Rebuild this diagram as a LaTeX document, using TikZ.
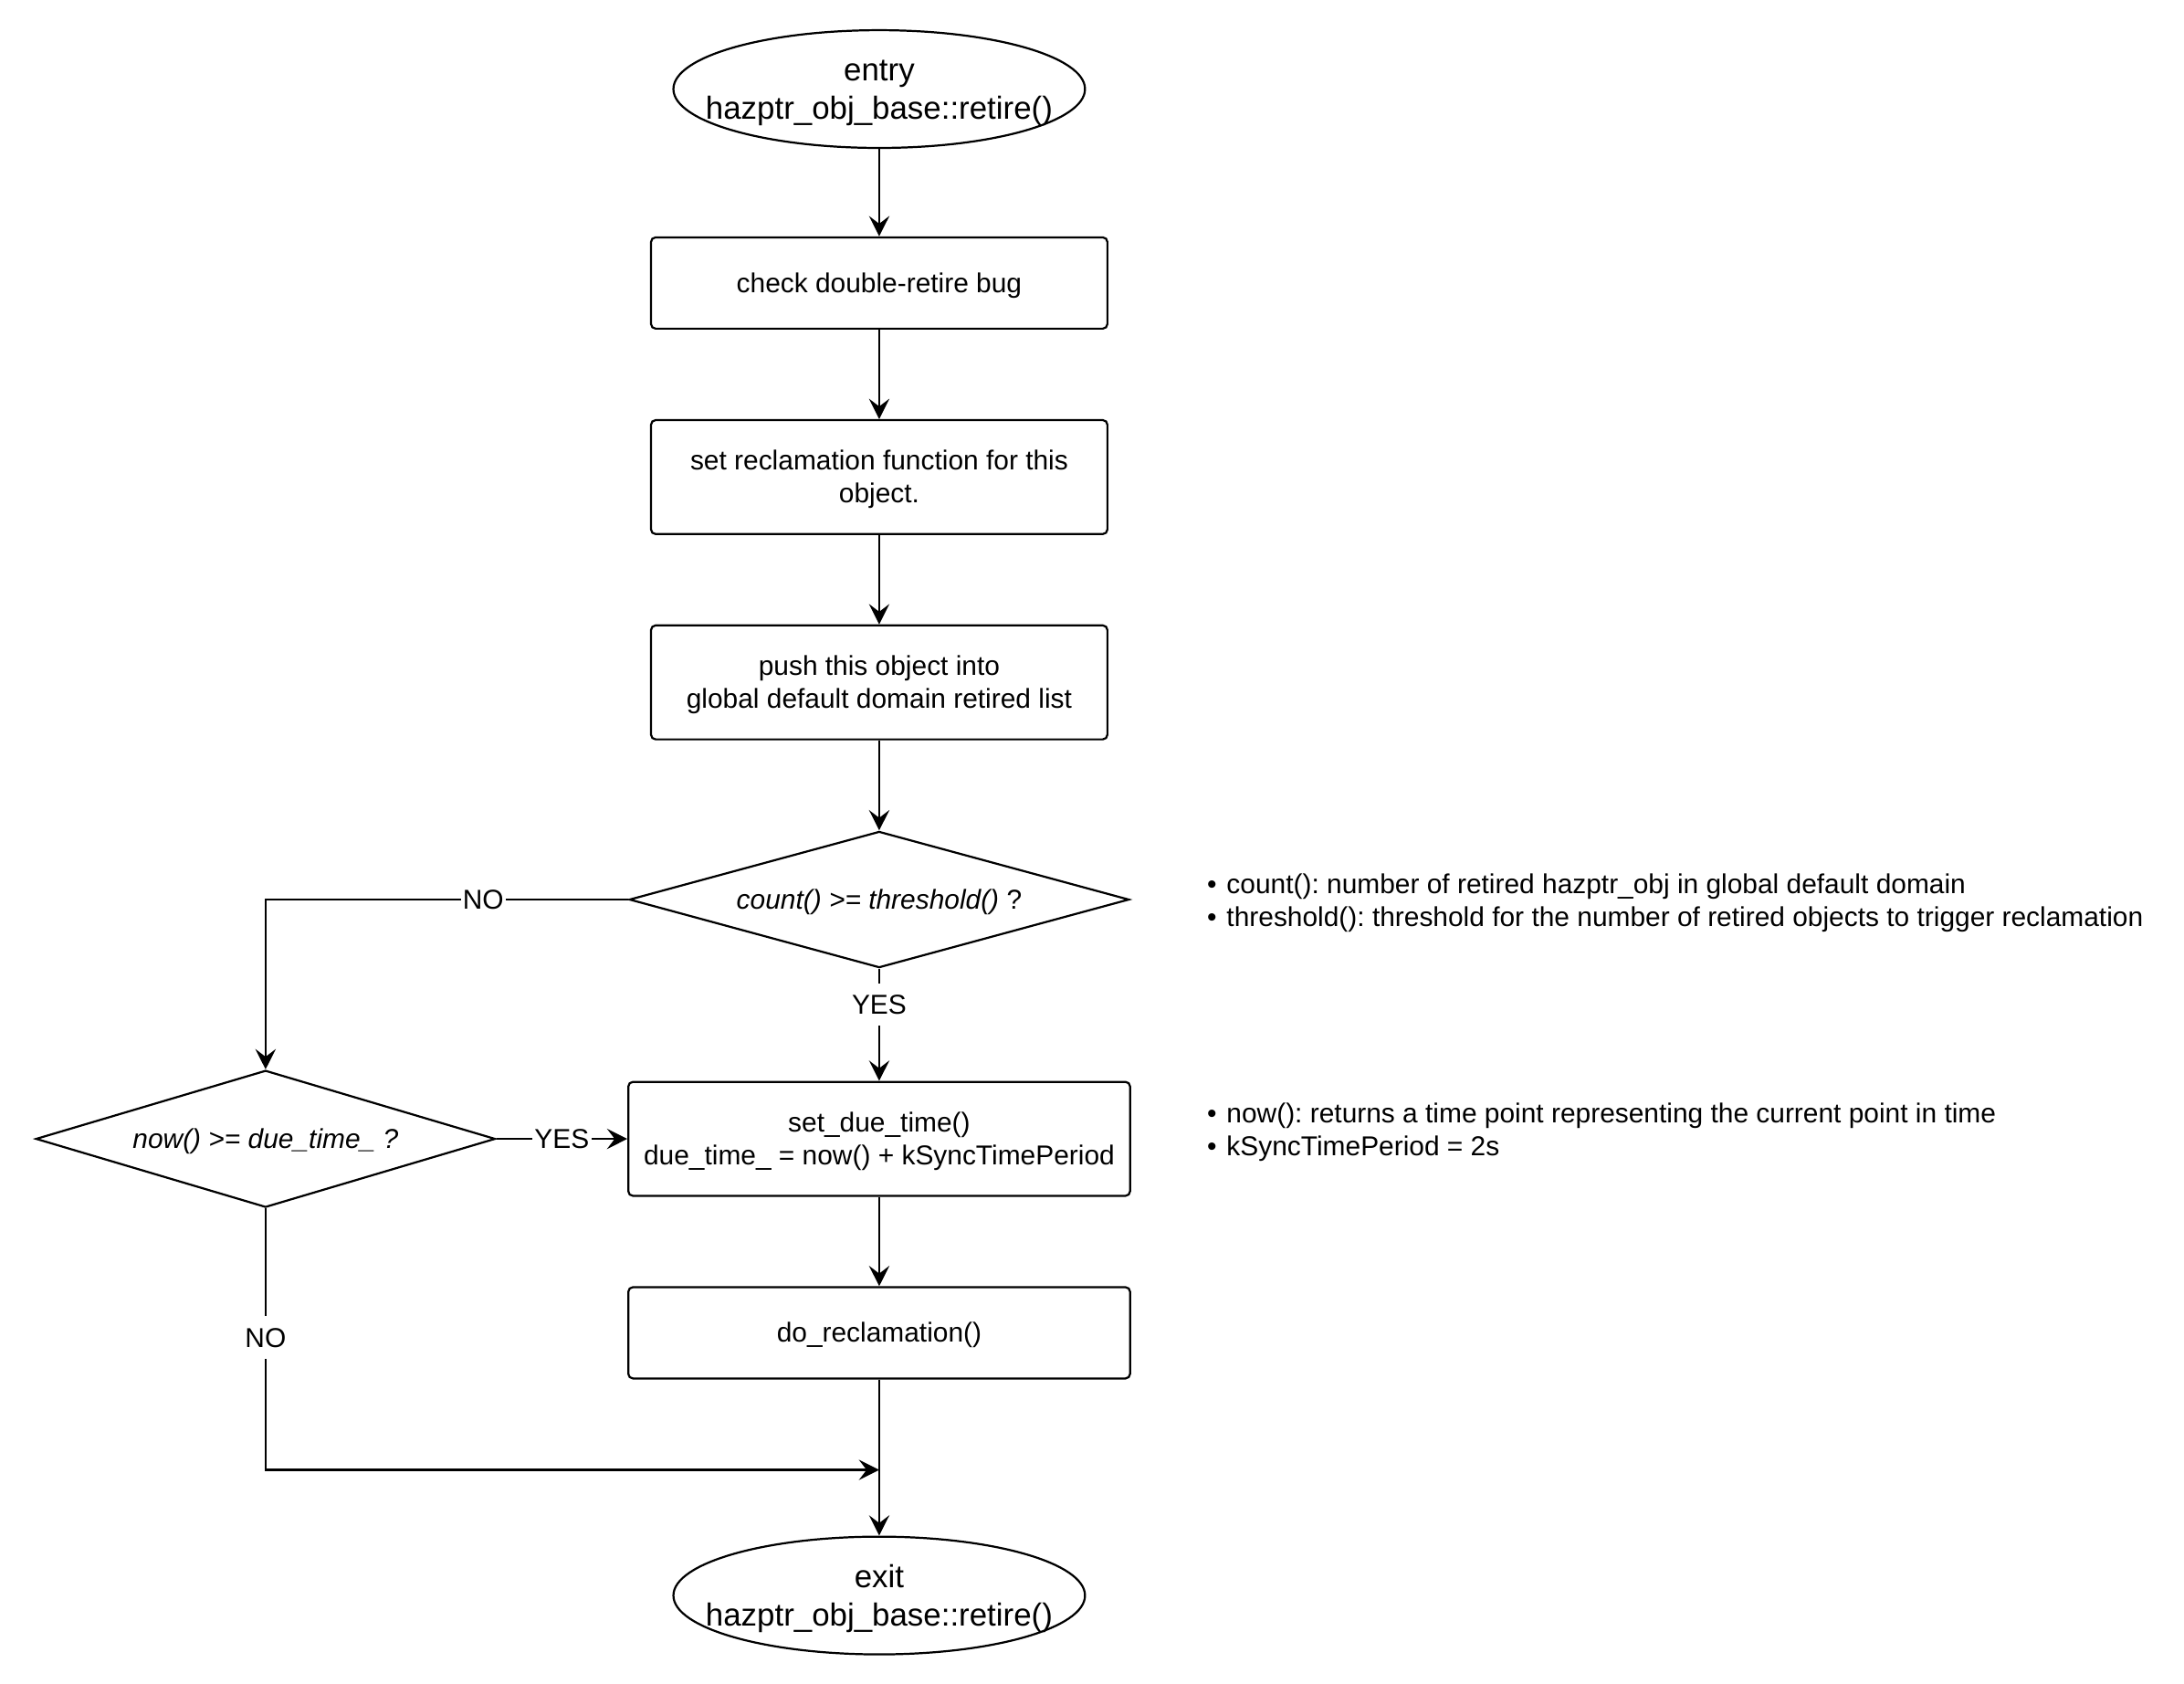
\documentclass[tikz,border=0pt]{standalone}
\usepackage{fontspec}
\setmainfont{Liberation Sans}
\usetikzlibrary{shapes.geometric,arrows.meta}
\frenchspacing
\newcommand{\tc}[2][c]{\raisebox{0pt}[\dimexpr\height+0.2134em\relax][\depth]{\begin{tabular}{@{}#1@{}}#2\end{tabular}}}
\begin{document}
\begin{tikzpicture}[x=1pt,y=-1pt,
  every node/.style={font=\fontsize{19.5}{23.4}\selectfont},
  box/.style={draw, rounded corners=3.3pt, minimum width=326pt, inner sep=0pt, line width=1.45pt, fill=white},
  term/.style={draw, ellipse, minimum width=294pt, minimum height=81.5pt, inner sep=0pt, line width=1.45pt, font=\fontsize{22.75}{27.3}\selectfont},
  decision/.style={draw, diamond, inner sep=0pt, line width=1.45pt},
  flow/.style={line width=1.45pt, -{Stealth[length=14.5pt,width=14.5pt,inset=5.5pt]}},
  lbl/.style={fill=white, inner sep=1.5pt},
  note/.style={anchor=west, inner sep=0pt}
]
\path[use as bounding box] (0,0) rectangle (1560,1202.6);

\node[term] (entry) at (628,63.6) {\makebox[0pt]{\tc{entry\\hazptr\_obj\_base::retire()}}};
\node[box, minimum height=65.2pt] (b1) at (628,202.1) {\tc{check double-retire bug}};
\node[box, minimum height=81.4pt] (b2) at (628,340.7) {\tc{set reclamation function for this\\object.}};
\node[box, minimum height=81.4pt] (b3) at (628,487.3) {\tc{push this object into\\global default domain retired list}};
\node[decision, minimum width=357pt, minimum height=97.3pt] (d1) at (628,642.4) {\makebox[0pt]{\tc{\textit{count() >= threshold()} ?}}};
\node[box, minimum width=358.4pt, minimum height=81.4pt] (b4) at (628,813.3) {\tc{set\_due\_time()\\due\_time\_ = now() + kSyncTimePeriod}};
\node[box, minimum width=358.4pt, minimum height=65.2pt] (b5) at (628,951.8) {\tc{do\_reclamation()}};
\node[term] (exit) at (628,1139.4) {\makebox[0pt]{\tc{exit\\hazptr\_obj\_base::retire()}}};
\node[decision, minimum width=328.2pt, minimum height=97.8pt] (d2) at (189.7,813.3) {\makebox[0pt]{\tc{\textit{now() >= due\_time\_ ?}}}};
\coordinate (m) at (628,1049.7);

\node[note] (n1) at (862,643) {\tc[l]{\makebox[14pt][l]{•}count(): number of retired hazptr\_obj in global default domain\\\makebox[14pt][l]{•}threshold(): threshold for the number of retired objects to trigger reclamation}};
\node[note] (n2) at (862,807) {\tc[l]{\makebox[14pt][l]{•}now(): returns a time point representing the current point in time\\\makebox[14pt][l]{•}kSyncTimePeriod = 2s}};

\draw[flow] (entry) -- (b1);
\draw[flow] (b1) -- (b2);
\draw[flow] (b2) -- (b3);
\draw[flow] (b3) -- (d1.north);
\draw[flow] (d1.south) -- node[lbl, pos=0.32]{\tc{YES}} (b4);
\draw[flow] (d1.west) -| node[lbl, pos=0.2]{\tc{NO}} (d2.north);
\draw[flow] (d2.east) -- node[lbl]{\tc{YES}} (b4.west);
\draw[flow] (d2.south) |- node[lbl, pos=0.247]{\tc{NO}} (m);
\draw[flow] (b4) -- (b5);
\draw[flow] (b5) -- (exit);
\end{tikzpicture}
\end{document}
